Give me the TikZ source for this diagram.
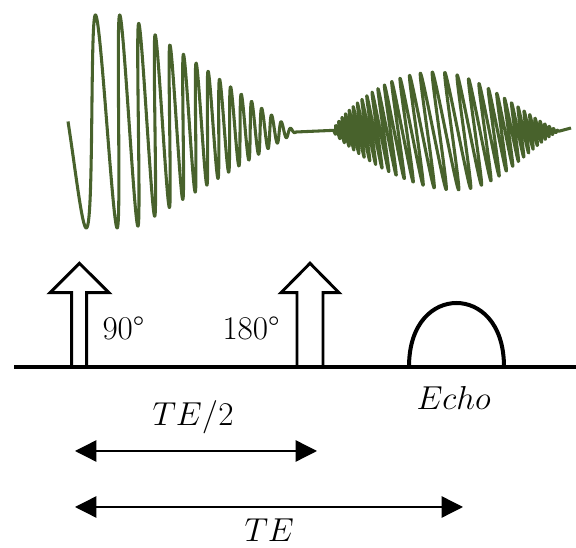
\documentclass[tikz,border=0pt]{standalone}
\usetikzlibrary{arrows.meta}

\definecolor{wavegreen}{RGB}{72,98,44}

\tikzset{
  every picture/.style={line width=0.75pt},
  wave/.style={draw=wavegreen, line width=2.3pt, line join=round},
  pulse/.style={draw=black, line width=2.2pt, fill=white, line join=miter},
  axisline/.style={draw=black, line width=3pt},
  dimarrow/.style={draw=black, line width=1pt, {Triangle[length=16pt,width=16pt]}-{Triangle[length=16pt,width=16pt]}},
  lbl/.style={inner sep=0pt, anchor=base west, font=\fontsize{24.88}{30}\selectfont},
  declare function={
    fidD(\u)=(\u-68)/100;
    fidN(\u)=0.25+1.30*fidD(\u)+3.49*fidD(\u)^2-0.406*fidD(\u)^3;
    fidU(\u)=min(117,0.708*(296-\u));
    fidC(\u)=cos(360*fidN(\u));
    echS(\u)=(\u-333)/227;
    echN(\u)=63.56*echS(\u)-14.45*(1-cos(180*echS(\u)));
    echE(\u)=ifthenelse(echS(\u)<0.5, 59*sin(180*echS(\u))^0.8, 59*sin(180*echS(\u))^1.3);
    echC(\u)=cos(360*echN(\u));
  }
}

\begin{document}
\begin{tikzpicture}[x=0.75pt,y=0.75pt,yscale=-1,xscale=1]
\useasboundingbox (0,0) rectangle (576,548);

%Signal: FID and echo
\draw[wave] plot[domain=68:296, samples=1400, variable=\u]
    ({\u-0.04*0.91*fidU(\u)*fidC(\u)}, {132-0.09*fidU(\u)-0.91*fidU(\u)*fidC(\u)})
  -- plot[domain=333.3:559.7, samples=2600, variable=\u]
    ({\u-0.17*echE(\u)*echC(\u)}, {131-echE(\u)*echC(\u)})
  -- (571,128);

%Shape: 90 pulse
\draw[pulse] (71.7,367) -- (71.7,292.7) -- (50,292.7) -- (79.4,263.3) -- (109,292.7) -- (86.7,292.7) -- (86.7,367) ;
%Shape: 180 pulse
\draw[pulse] (297,367) -- (297,292.7) -- (281,292.7) -- (310,263.3) -- (339,292.7) -- (323,292.7) -- (323,367) ;

%Shape: echo
\draw[line width=3pt] (409,367) .. controls (409,322) and (434,303) .. (456.5,303)
  .. controls (479,303) and (504,322) .. (504,367) ;

%Straight Lines: time axis
\draw[axisline] (14,367) -- (576,367) ;

%Dimension arrows
\coordinate (te2L) at (75,451);
\coordinate (te2R) at (317,451);
\coordinate (teL) at (75,507);
\coordinate (teR) at (463,507);
\draw[dimarrow] (te2L) -- (te2R) ;
\draw[dimarrow] (teL) -- (teR) ;

% Text Node
\node[lbl] (lbl90) at (102,340) {90°};
% Text Node
\node[lbl] (lbl180) at (222,340) {180°};
% Text Node
\node[lbl] (lblecho) at (416,410) {$Echo$};
% Text Node
\node[lbl] (lblhalf) at (152,426) {$TE/2$};
% Text Node
\node[lbl] (lblte) at (244,542) {$TE$};

\end{tikzpicture}
\end{document}
